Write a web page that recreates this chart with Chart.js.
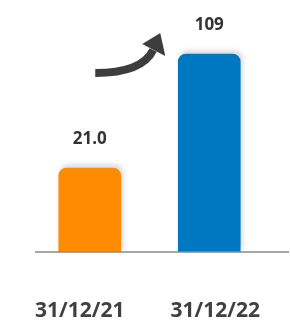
<!DOCTYPE html>
<html>
<head>
<meta charset="utf-8">
<script src="https://cdn.jsdelivr.net/npm/chart.js@4/dist/chart.umd.min.js"></script>
<style>
  html, body { margin: 0; padding: 0; background: #ffffff; }
  #wrap { width: 290px; height: 323px; }
</style>
</head>
<body>
<div id="wrap"><canvas id="c" width="290" height="323"></canvas></div>
<script>
// ---- data ----
const categories = ['31/12/21', '31/12/22'];
const values = [21.0, 109];
const valueLabels = ['21.0', '109'];
const barColors = ['#FF8C00', '#0077C1'];

const FONT = "'Open Sans', 'Noto Sans', sans-serif";

const valueLabelPlugin = {
  id: 'valueLabels',
  afterDatasetsDraw(chart) {
    const ctx = chart.ctx;
    const meta = chart.getDatasetMeta(0);
    ctx.save();
    ctx.fillStyle = '#333333';
    ctx.font = 'bold 17px ' + FONT;
    ctx.textAlign = 'center';
    ctx.textBaseline = 'alphabetic';
    meta.data.forEach((bar, i) => {
      ctx.fillText(valueLabels[i], bar.x, bar.y - 24);
    });
    ctx.restore();
  }
};

// category labels, spread slightly wider than the bars as in the original
const categoryLabelPlugin = {
  id: 'categoryLabels',
  afterDraw(chart) {
    const ctx = chart.ctx;
    const xs = chart.scales.x;
    const n = categories.length;
    const mid = (xs.getPixelForTick(0) + xs.getPixelForTick(n - 1)) / 2;
    ctx.save();
    ctx.fillStyle = '#404040';
    ctx.font = 'bold 21px ' + FONT;
    ctx.textAlign = 'center';
    ctx.textBaseline = 'alphabetic';
    categories.forEach((c, i) => {
      const px = xs.getPixelForTick(i);
      ctx.fillText(c, mid - 2 + (px - mid) * 1.134, chart.chartArea.bottom + 65);
    });
    ctx.restore();
  }
};

const baselinePlugin = {
  id: 'baseline',
  afterDatasetsDraw(chart) {
    const ctx = chart.ctx;
    const a = chart.chartArea;
    ctx.save();
    ctx.strokeStyle = '#8a8a8a';
    ctx.lineWidth = 1.5;
    ctx.beginPath();
    ctx.moveTo(a.left + 5, a.bottom);
    ctx.lineTo(chart.width - 1, a.bottom);
    ctx.stroke();
    ctx.restore();
  }
};

const barShadowPlugin = {
  id: 'barShadow',
  beforeDatasetsDraw(chart) {
    const ctx = chart.ctx;
    ctx.save();
    ctx.shadowColor = 'rgba(60,60,80,0.2)';
    ctx.shadowBlur = 5;
    ctx.shadowOffsetX = 2;
    ctx.shadowOffsetY = -3;
  },
  afterDatasetsDraw(chart) {
    chart.ctx.restore();
  }
};

const arrowPlugin = {
  id: 'arrow',
  afterDraw(chart) {
    const ctx = chart.ctx;
    const meta = chart.getDatasetMeta(0);
    const blue = meta.data[1];
    const left = blue.x - blue.width / 2;
    const tipX = left - 18, tipY = blue.y - 21;
    ctx.save();
    ctx.fillStyle = '#3d3d3d';
    ctx.strokeStyle = '#3d3d3d';
    ctx.lineWidth = 8;
    ctx.lineCap = 'butt';
    ctx.beginPath();
    ctx.moveTo(tipX - 65, tipY + 40);
    ctx.bezierCurveTo(tipX - 40, tipY + 40, tipX - 16, tipY + 35, tipX - 7, tipY + 17);
    ctx.stroke();
    ctx.beginPath();
    ctx.moveTo(tipX, tipY);
    ctx.lineTo(tipX - 18, tipY + 11);
    ctx.lineTo(tipX + 5, tipY + 23);
    ctx.closePath();
    ctx.fill();
    ctx.restore();
  }
};

new Chart(document.getElementById('c'), {
  type: 'bar',
  data: {
    labels: categories,
    datasets: [{
      data: values,
      backgroundColor: barColors,
      borderWidth: 0,
      barThickness: 62,
      borderRadius: { topLeft: 8, topRight: 8, bottomLeft: 0, bottomRight: 0 },
      borderSkipped: false
    }]
  },
  options: {
    responsive: false,
    devicePixelRatio: 1,
    animation: false,
    layout: { padding: { left: 30, right: 21, top: 10, bottom: 0 } },
    plugins: { legend: { display: false }, tooltip: { enabled: false } },
    scales: {
      x: {
        type: 'category',
        offset: true,
        grid: { display: false, drawTicks: false },
        border: { display: false },
        ticks: { display: false },
        afterFit(scale) {
          scale.paddingLeft = 0;
          scale.paddingRight = 0;
          scale.height = 71;
        }
      },
      y: {
        type: 'logarithmic',
        display: false,
        bounds: 'data',
        min: 6.25,
        max: 205.8
      }
    }
  },
  plugins: [barShadowPlugin, baselinePlugin, valueLabelPlugin, categoryLabelPlugin, arrowPlugin]
});
</script>
</body>
</html>
